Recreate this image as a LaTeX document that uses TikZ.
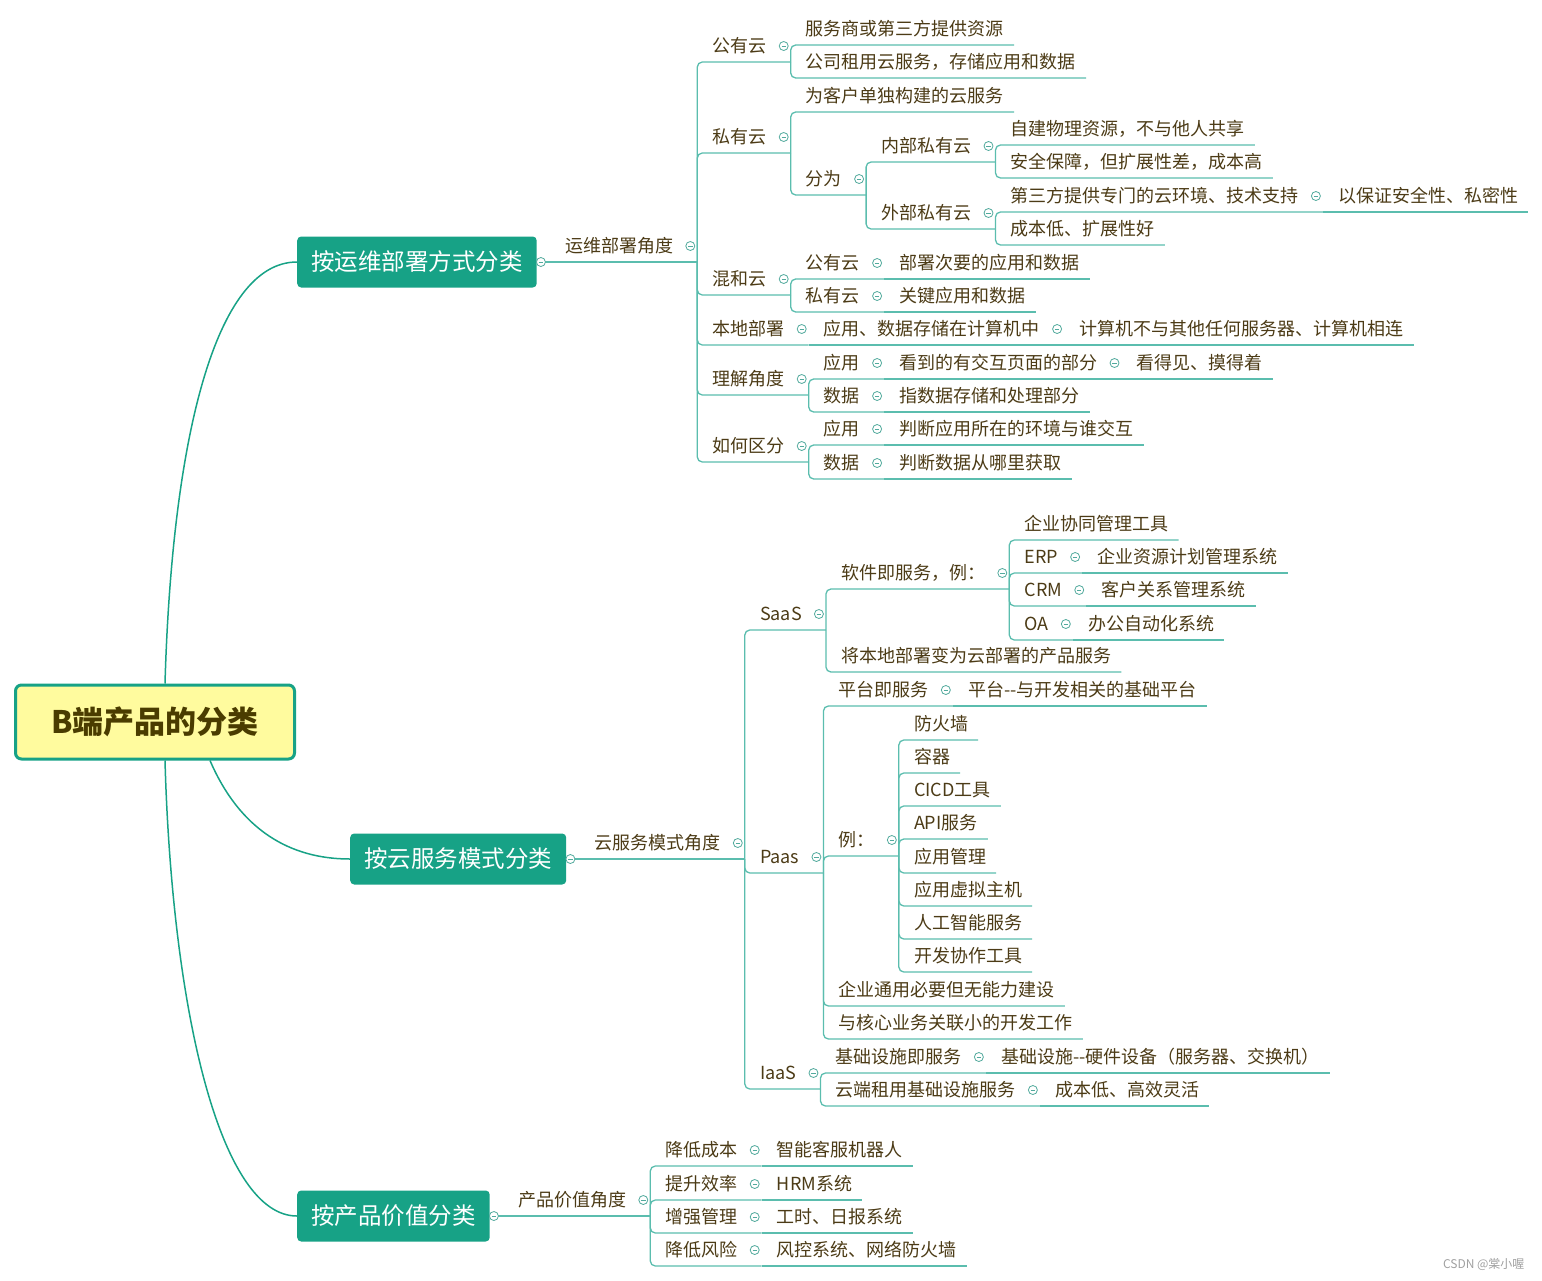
\documentclass[tikz,border=0pt]{standalone}
\usepackage{fontspec}
\setmainfont{Noto Sans CJK SC}
\usepackage{tikz}
\usetikzlibrary{calc}
\definecolor{cLine}{HTML}{5BBDAE}
\definecolor{cTeal}{HTML}{17A286}
\definecolor{cText}{HTML}{4C3B16}
\definecolor{cRoot}{HTML}{FFFB9E}
\definecolor{cRootT}{HTML}{4A3C00}
\definecolor{cGray}{HTML}{A0A0A0}

\begin{document}
\begin{tikzpicture}[x=1pt, y=-1pt,
    topic/.style={anchor=south west, inner xsep=10pt, inner ysep=0pt,
      text height=15pt, text depth=9pt, text=cText,
      font=\fontsize{18}{20}\selectfont, execute at begin node={\hspace{5pt}}},
    fold/.style={topic, execute at end node={\hspace{14pt}}},
    branch/.style={anchor=west, fill=cTeal, text=white, rounded corners=4pt,
      minimum height=51pt, inner xsep=14pt, font=\fontsize{23.5}{28}\selectfont},
    link/.style={cLine, line width=1.3pt, rounded corners=5pt},
    stem/.style={cTeal, line width=1.5pt},
    foldmk/.style={circle, draw=cLine!90!black, fill=white, line width=0.8pt,
      minimum size=9pt, inner sep=0pt,
      path picture={\draw[cLine!90!black, line width=0.8pt]
        ([xshift=-2.2pt]path picture bounding box.center) --
        ([xshift=2.2pt]path picture bounding box.center);}}]
  \useasboundingbox (0,0) rectangle (1542,1280);

  % root and main branches
  \node[draw=cTeal, line width=3pt, fill=cRoot, rounded corners=6pt,
    minimum width=279pt, minimum height=74pt, text=cRootT,
    font=\fontsize{31}{36}\selectfont\bfseries] (root) at (155,722) {B端产品的分类};
  \node[branch] (ops) at (297,262) {按运维部署方式分类};
  \node[branch] (cloud) at (350,859) {按云服务模式分类};
  \node[branch] (val) at (297,1216) {按产品价值分类};
  \draw[stem] ([xshift=10pt]root.north) .. controls (172,440) and (215,262) .. (ops.west);
  \draw[stem] ([xshift=55pt]root.south) .. controls (240,830) and (290,859) .. (cloud.west);
  \draw[stem] ([xshift=10pt]root.south) .. controls (172,1010) and (220,1216) .. (val.west);

  % deployment
  \node[fold] (opsv) at ([xshift=13pt]ops.east) {运维部署角度};
  \node[fold] (pub) at (opsv.south east |- 0,62) {公有云};
  \node[topic] (pub1) at (pub.south east |- 0,45) {服务商或第三方提供资源};
  \node[topic] (pub2) at (pub.south east |- 0,78) {公司租用云服务，存储应用和数据};
  \node[fold] (pri) at (opsv.south east |- 0,153) {私有云};
  \node[topic] (pri1) at (pri.south east |- 0,112) {为客户单独构建的云服务};
  \node[fold] (div) at (pri.south east |- 0,195) {分为};
  \node[fold] (inn) at (div.south east |- 0,162) {内部私有云};
  \node[topic] (inn1) at (inn.south east |- 0,145) {自建物理资源，不与他人共享};
  \node[topic] (inn2) at (inn.south east |- 0,178) {安全保障，但扩展性差，成本高};
  \node[fold] (ext) at (div.south east |- 0,229) {外部私有云};
  \node[fold] (ext1) at (ext.south east |- 0,212) {第三方提供专门的云环境、技术支持};
  \node[topic] (ext1a) at (ext1.south east) {以保证安全性、私密性};
  \node[topic] (ext2) at (ext.south east |- 0,245) {成本低、扩展性好};
  \node[fold] (hyb) at (opsv.south east |- 0,295) {混和云};
  \node[fold] (hybpub) at (hyb.south east |- 0,279) {公有云};
  \node[topic] (hybpubA) at (hybpub.south east) {部署次要的应用和数据};
  \node[fold] (hybpri) at (hyb.south east |- 0,312) {私有云};
  \node[topic] (hybpriA) at (hybpri.south east) {关键应用和数据};
  \node[fold] (loc) at (opsv.south east |- 0,345) {本地部署};
  \node[fold] (locA) at (loc.south east) {应用、数据存储在计算机中};
  \node[topic] (locB) at (locA.south east) {计算机不与其他任何服务器、计算机相连};
  \node[fold] (und) at (opsv.south east |- 0,395) {理解角度};
  \node[fold] (undapp) at (und.south east |- 0,379) {应用};
  \node[fold] (undappA) at (undapp.south east) {看到的有交互页面的部分};
  \node[topic] (undappB) at (undappA.south east) {看得见、摸得着};
  \node[fold] (unddat) at (und.south east |- 0,412) {数据};
  \node[topic] (unddatA) at (unddat.south east) {指数据存储和处理部分};
  \node[fold] (dist) at (opsv.south east |- 0,462) {如何区分};
  \node[fold] (distapp) at (dist.south east |- 0,445) {应用};
  \node[topic] (distappA) at (distapp.south east) {判断应用所在的环境与谁交互};
  \node[fold] (distdat) at (dist.south east |- 0,479) {数据};
  \node[topic] (distdatA) at (distdat.south east) {判断数据从哪里获取};

  % cloud service model
  \node[fold] (cloudv) at ([xshift=13pt]cloud.east) {云服务模式角度};
  \node[fold] (saas) at (cloudv.south east |- 0,630) {SaaS};
  \node[fold] (sw) at (saas.south east |- 0,589) {软件即服务，例：};
  \node[topic] (ent) at (sw.south east |- 0,540) {企业协同管理工具};
  \node[fold] (erp) at (sw.south east |- 0,573) {ERP};
  \node[topic] (erpA) at (erp.south east) {企业资源计划管理系统};
  \node[fold] (crm) at (sw.south east |- 0,606) {CRM};
  \node[topic] (crmA) at (crm.south east) {客户关系管理系统};
  \node[fold] (oa) at (sw.south east |- 0,640) {OA};
  \node[topic] (oaA) at (oa.south east) {办公自动化系统};
  \node[topic] (mig) at (saas.south east |- 0,672) {将本地部署变为云部署的产品服务};
  \node[fold] (paas) at (cloudv.south east |- 0,873) {Paas};
  \node[fold] (plat) at (paas.south east |- 0,706) {平台即服务};
  \node[topic] (platA) at (plat.south east) {平台-{}-与开发相关的基础平台};
  \node[fold] (eg) at (paas.south east |- 0,856) {例：};
  \node[topic] (fw) at (eg.south east |- 0,740) {防火墙};
  \node[topic] (cont) at (eg.south east |- 0,773) {容器};
  \node[topic] (cicd) at (eg.south east |- 0,806) {CICD工具};
  \node[topic] (api) at (eg.south east |- 0,839) {API服务};
  \node[topic] (appm) at (eg.south east |- 0,873) {应用管理};
  \node[topic] (vm) at (eg.south east |- 0,906) {应用虚拟主机};
  \node[topic] (ai) at (eg.south east |- 0,939) {人工智能服务};
  \node[topic] (dev) at (eg.south east |- 0,972) {开发协作工具};
  \node[topic] (gen) at (paas.south east |- 0,1006) {企业通用必要但无能力建设};
  \node[topic] (core) at (paas.south east |- 0,1039) {与核心业务关联小的开发工作};
  \node[fold] (iaas) at (cloudv.south east |- 0,1089) {IaaS};
  \node[fold] (infra) at (iaas.south east |- 0,1073) {基础设施即服务};
  \node[topic] (infraA) at (infra.south east) {基础设施-{}-硬件设备（服务器、交换机）};
  \node[fold] (rent) at (iaas.south east |- 0,1106) {云端租用基础设施服务};
  \node[topic] (rentA) at (rent.south east) {成本低、高效灵活};

  % product value
  \node[fold] (valv) at ([xshift=13pt]val.east) {产品价值角度};
  \node[fold] (cost) at (valv.south east |- 0,1166) {降低成本};
  \node[topic] (costA) at (cost.south east) {智能客服机器人};
  \node[fold] (eff) at (valv.south east |- 0,1200) {提升效率};
  \node[topic] (effA) at (eff.south east) {HRM系统};
  \node[fold] (mgmt) at (valv.south east |- 0,1233) {增强管理};
  \node[topic] (mgmtA) at (mgmt.south east) {工时、日报系统};
  \node[fold] (risk) at (valv.south east |- 0,1266) {降低风险};
  \node[topic] (riskA) at (risk.south east) {风控系统、网络防火墙};

  % connectors
  \draw[link] (ops.east) -- (opsv.south east);
  \draw[link] (cloud.east) -- (cloudv.south east);
  \draw[link] (val.east) -- (valv.south east);
  \foreach \p/\c in {opsv/pub, opsv/pri, opsv/hyb, opsv/loc, opsv/und, opsv/dist,
      pub/pub1, pub/pub2, pri/pri1, pri/div, div/inn, div/ext, inn/inn1, inn/inn2,
      ext/ext1, ext/ext2, hyb/hybpub, hyb/hybpri, und/undapp, und/unddat,
      dist/distapp, dist/distdat, cloudv/saas, cloudv/paas, cloudv/iaas,
      saas/sw, saas/mig, sw/ent, sw/erp, sw/crm, sw/oa, paas/plat, paas/eg,
      paas/gen, paas/core, eg/fw, eg/cont, eg/cicd, eg/api, eg/appm, eg/vm,
      eg/ai, eg/dev, iaas/infra, iaas/rent,
      valv/cost, valv/eff, valv/mgmt, valv/risk}
    \draw[link] (\p.south east) |- (\c.south east);
  \foreach \p/\c in {ext1/ext1a, hybpub/hybpubA, hybpri/hybpriA, loc/locA,
      locA/locB, undapp/undappA, undappA/undappB, unddat/unddatA,
      distapp/distappA, distdat/distdatA, erp/erpA, crm/crmA, oa/oaA,
      plat/platA, infra/infraA, rent/rentA, cost/costA, eff/effA,
      mgmt/mgmtA, risk/riskA}
    \draw[link] (\p.south east) -- (\c.south east);

  % fold marks
  \foreach \n in {ops, cloud, val}
    \node[foldmk] (\n-mk) at ([xshift=4pt]\n.east) {};
  \foreach \n in {opsv, pub, pri, div, inn, ext, ext1, hyb, hybpub, hybpri,
      loc, locA, und, undapp, undappA, unddat, dist, distapp, distdat,
      cloudv, saas, sw, erp, crm, oa, paas, plat, eg, iaas, infra, rent,
      valv, cost, eff, mgmt, risk}
    \node[foldmk] (\n-mk) at ([xshift=-7pt, yshift=16pt]\n.south east) {};

  \node[text=cGray, font=\fontsize{12}{14}\selectfont, anchor=east] (sign) at (1528,1264) {CSDN @棠小喔};
\end{tikzpicture}
\end{document}
